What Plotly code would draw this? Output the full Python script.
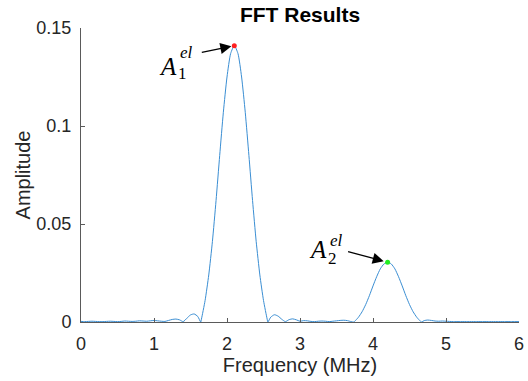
import plotly.graph_objects as go

freq_mhz = [0.00, 0.05, 0.10, 0.15, 0.20, 0.25, 0.30, 0.35, 0.40, 0.45,
            0.50, 0.55, 0.60, 0.65, 0.70, 0.75, 0.80, 0.85, 0.90, 0.95,
            1.00, 1.05, 1.10, 1.15, 1.20, 1.25, 1.30, 1.35, 1.40, 1.45,
            1.50, 1.55, 1.60, 1.64, 1.65, 1.70, 1.75, 1.80, 1.85, 1.90,
            1.95, 2.00, 2.05, 2.10, 2.15, 2.20, 2.25, 2.30, 2.35, 2.40,
            2.45, 2.50, 2.55, 2.56, 2.60, 2.65, 2.70, 2.75, 2.80, 2.85,
            2.90, 2.95, 3.00, 3.05, 3.10, 3.15, 3.20, 3.25, 3.30, 3.35,
            3.40, 3.45, 3.50, 3.55, 3.60, 3.65, 3.70, 3.735, 3.75, 3.80,
            3.85, 3.90, 3.95, 4.00, 4.05, 4.10, 4.15, 4.20, 4.25, 4.30,
            4.35, 4.40, 4.45, 4.50, 4.55, 4.60, 4.65, 4.665, 4.70, 4.75,
            4.80, 4.85, 4.90, 4.95, 5.00, 5.10, 5.20, 5.30, 5.40, 5.50,
            5.60, 5.70, 5.80, 5.90, 6.00]

amplitude = [0.0003, 0.0002, 0.0003, 0.0004, 0.0003, 0.0002, 0.0002, 0.0003, 0.0004, 0.0003,
             0.0002, 0.0003, 0.0005, 0.0004, 0.0003, 0.0004, 0.0006, 0.0005, 0.0004, 0.0006,
             0.0008, 0.0006, 0.0004, 0.0003, 0.0008, 0.0013, 0.0015, 0.0011, 0.0002, 0.0019,
             0.0036, 0.0041, 0.0028, 0.0000, 0.0015, 0.0110, 0.0240, 0.0410, 0.0620, 0.0850,
             0.1070, 0.1250, 0.1370, 0.1410, 0.1370, 0.1250, 0.1070, 0.0850, 0.0620, 0.0410,
             0.0240, 0.0110, 0.0015, 0.0000, 0.0025, 0.0037, 0.0030, 0.0014, 0.0002, 0.0012,
             0.0016, 0.0011, 0.0004, 0.0007, 0.0006, 0.0003, 0.0002, 0.0004, 0.0005, 0.0004,
             0.0002, 0.0004, 0.0006, 0.0008, 0.0009, 0.0007, 0.0002, 0.0000, 0.0004, 0.0024,
             0.0052, 0.0089, 0.0134, 0.0184, 0.0231, 0.0271, 0.0296, 0.0305, 0.0296, 0.0271,
             0.0231, 0.0184, 0.0134, 0.0089, 0.0052, 0.0024, 0.0004, 0.0000, 0.0007, 0.0010,
             0.0008, 0.0005, 0.0004, 0.0005, 0.0004, 0.0002, 0.0002, 0.0002, 0.0002, 0.0002,
             0.0002, 0.0002, 0.0002, 0.0002, 0.0002]

peak_freq = [2.10, 4.20]
peak_amp = [0.1410, 0.0305]
peak_colors = ["#ff2020", "#22ee22"]
peak_sub = ["1", "2"]

x_ticks = [0, 1, 2, 3, 4, 5, 6]
y_ticks = [0, 0.05, 0.1, 0.15]
y_tick_text = ["0", "0.05", "0.1", "0.15"]

TXT = "#262626"
AX = "#5a5a5a"

fig = go.Figure()
fig.add_trace(go.Scatter(
    x=freq_mhz, y=amplitude, mode="lines",
    line=dict(color="#3a8ed3", width=1, shape="spline", smoothing=0.6),
    showlegend=False, hoverinfo="skip", cliponaxis=False))
fig.add_trace(go.Scatter(
    x=peak_freq, y=peak_amp, mode="markers",
    marker=dict(color=peak_colors, size=5),
    showlegend=False, hoverinfo="skip"))

# label offsets (pixels) relative to each peak
label_offsets = [
    dict(A=(-66, -21), el=(-48, -7), sub=(-52, -28), arrow=(-34, 7), standoff=3),
    dict(A=(-70, 13), el=(-51, 22), sub=(-55, 4), arrow=(-41, -11), standoff=4),
]

for i in range(2):
    o = label_offsets[i]
    fx, fy = peak_freq[i], peak_amp[i]
    fig.add_annotation(x=fx, y=fy, xref="x", yref="y", text="",
                       showarrow=True, ax=o["arrow"][0], ay=o["arrow"][1],
                       arrowhead=2, arrowsize=1.7, arrowwidth=1.3,
                       arrowcolor="black", standoff=o["standoff"])
    fig.add_annotation(x=fx, y=fy, xref="x", yref="y", text="<i>A</i>",
                       showarrow=False, xshift=o["A"][0], yshift=o["A"][1],
                       font=dict(family="Liberation Serif", size=25, color="black"))
    fig.add_annotation(x=fx, y=fy, xref="x", yref="y", text="<i>el</i>",
                       showarrow=False, xshift=o["el"][0], yshift=o["el"][1],
                       font=dict(family="Liberation Serif", size=17, color="black"))
    fig.add_annotation(x=fx, y=fy, xref="x", yref="y", text=peak_sub[i],
                       showarrow=False, xshift=o["sub"][0], yshift=o["sub"][1],
                       font=dict(family="Liberation Serif", size=17, color="black"))

fig.update_layout(
    width=528, height=381,
    margin=dict(l=81, r=9, t=28, b=59, autoexpand=False),
    paper_bgcolor="white", plot_bgcolor="white",
    font=dict(family="Liberation Sans, Arial", color=TXT),
    title=dict(text="<b>FFT Results</b>", x=300 / 528, xref="container", xanchor="center",
               y=1 - 15 / 381, yref="container", yanchor="middle",
               font=dict(family="Liberation Sans, Arial", size=21, color="black")),
    xaxis=dict(range=[0, 6], tickvals=x_ticks, ticktext=[str(v) for v in x_ticks],
               automargin=False,
               showgrid=False, zeroline=False, showline=True, linecolor=AX,
               linewidth=1, ticks="inside", ticklen=4, tickcolor=AX,
               ticklabelstandoff=5,
               tickfont=dict(size=18, color=TXT),
               title=dict(text="Frequency (MHz)", font=dict(size=20, color=TXT), standoff=4)),
    yaxis=dict(range=[0, 0.15], tickvals=y_ticks, ticktext=y_tick_text,
               automargin=False,
               showgrid=False, zeroline=False, showline=True, linecolor=AX,
               linewidth=1, ticks="inside", ticklen=4, tickcolor=AX,
               ticklabelstandoff=5,
               tickfont=dict(size=18, color=TXT),
               title=dict(text="Amplitude", font=dict(size=20, color=TXT), standoff=0)),
)

fig.write_html("out.html",
               config={"displayModeBar": False},
               post_script="document.body.style.margin='0';document.body.style.overflow='hidden';")
